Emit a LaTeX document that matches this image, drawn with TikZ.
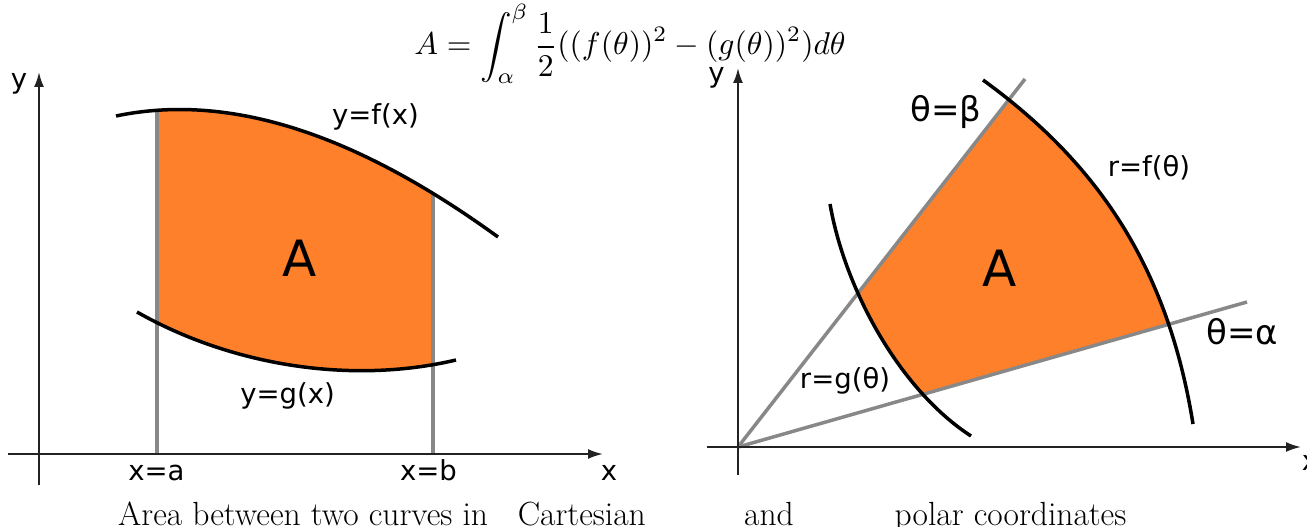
\documentclass[tikz,border=0pt]{standalone}
\usepackage{graphicx}
\usepackage{fontspec}
\newfontfamily\labfont{DejaVu Sans}
\usetikzlibrary{arrows.meta}
\definecolor{areaorange}{RGB}{255,128,42}
\definecolor{raygray}{RGB}{136,136,136}
\definecolor{axisdark}{RGB}{34,34,34}
\tikzset{
  axisline/.style={draw=axisdark, line width=2bp, -{Latex[length=15bp,width=10bp]}},
  curveline/.style={draw=black, line width=3.5bp},
  boundline/.style={draw=raygray, line width=3.5bp},
  lab/.style={font=\labfont\fontsize{27.5bp}{33bp}\selectfont, inner sep=0pt},
  biglab/.style={font=\labfont\fontsize{34bp}{41bp}\selectfont, inner sep=0pt},
  arealab/.style={font=\labfont\fontsize{50bp}{60bp}\selectfont, inner sep=0pt},
  captext/.style={font=\fontsize{33.5bp}{40bp}\selectfont, inner sep=0pt},
}
\begin{document}
\begin{tikzpicture}[x=1bp,y=-1bp]
\useasboundingbox (0,0) rectangle (1307,527);

% formula
\node[anchor=base, inner sep=0pt] (formula) at (630,55)
  {\scalebox{3.17}{$\displaystyle A=\int_\alpha^\beta \frac{1}{2}((f(\theta))^2-(g(\theta))^2)d\theta$}};

% ---------- left panel ----------
\begin{scope}
  \clip (157,0) rectangle (433,454);
  \fill[areaorange] (116,116) .. controls (250,88) and (385,155) .. (498,237)
     -- (456,360) .. controls (350,385) and (230,365) .. (137,312) -- cycle;
\end{scope}
\coordinate (la0) at (157,454); \coordinate (la1) at (157,111);
\coordinate (lb0) at (433,454); \coordinate (lb1) at (433,193);
\draw[boundline] (la0) -- (la1);
\draw[boundline] (lb0) -- (lb1);
\coordinate (f0) at (116,116); \coordinate (f1) at (498,237);
\coordinate (g0) at (137,312); \coordinate (g1) at (456,360);
\draw[curveline] (f0) .. controls (250,88) and (385,155) .. (f1);
\draw[curveline] (g0) .. controls (230,365) and (350,385) .. (g1);

\coordinate (lyb) at (39,485); \coordinate (lyt) at (39,72);
\coordinate (lxl) at (8,454); \coordinate (lxr) at (603,454);
\draw[axisline] (lyb) -- (lyt);
\draw[axisline] (lxl) -- (lxr);

\node[lab, anchor=base] (ly) at (19,89) {y};
\node[lab, anchor=base] (lx) at (609,480) {x};
\node[lab, anchor=base] (xa) at (156.5,480) {x=a};
\node[lab, anchor=base] (xb) at (428.5,480) {x=b};
\node[lab] (lf) at (375.5,116.5) {y=f(x)};
\node[lab] (lg) at (287.5,396) {y=g(x)};
\node[arealab] (lA) at (300,258) {A};

% ---------- right panel ----------
\coordinate (O) at (738,447);
\coordinate (rb) at (1025,79);
\coordinate (ra) at (1247,302);
\begin{scope}
  \clip (O) -- (1501.5,228) -- (1600,-300) -- (1168.5,-106.5) -- cycle;
  \fill[areaorange] (983,80) .. controls (1100,165) and (1168,269) .. (1193,424)
     -- (971,436) .. controls (900,390) and (845,290) .. (830,204) -- cycle;
\end{scope}
\draw[boundline] (O) -- (rb);
\draw[boundline] (O) -- (ra);
\coordinate (rf0) at (983,80); \coordinate (rf1) at (1193,424);
\coordinate (rg0) at (830,204); \coordinate (rg1) at (971,436);
\draw[curveline] (rf0) .. controls (1100,165) and (1168,269) .. (rf1);
\draw[curveline] (rg0) .. controls (845,290) and (900,390) .. (rg1);

\coordinate (ryb) at (738,475); \coordinate (ryt) at (738,68);
\coordinate (rxl) at (707,447); \coordinate (rxr) at (1301,447);
\draw[axisline] (ryb) -- (ryt);
\draw[axisline] (rxl) -- (rxr);

\node[lab, anchor=base] (ry) at (716.5,83) {y};
\node[lab, anchor=base] (rx) at (1310,470) {x};
\node[biglab, anchor=base] (tb) at (946,122) {θ=β};
\node[biglab, anchor=base] (ta) at (1242.5,344) {θ=α};
\node[lab, anchor=base] (rfl) at (1149,177) {r=f(θ)};
\node[lab, anchor=base] (rgl) at (845,388) {r=g(θ)};
\node[arealab] (rA) at (1000,268) {A};

% ---------- caption ----------
\node[captext, anchor=base west] (c1) at (118,525) {Area between two curves in};
\node[captext, anchor=base east] (c2) at (646,525) {Cartesian};
\node[captext, anchor=base west] (c3) at (744,525) {and};
\node[captext, anchor=base west] (c4) at (894.5,525) {polar coordinates};
\end{tikzpicture}
\end{document}
